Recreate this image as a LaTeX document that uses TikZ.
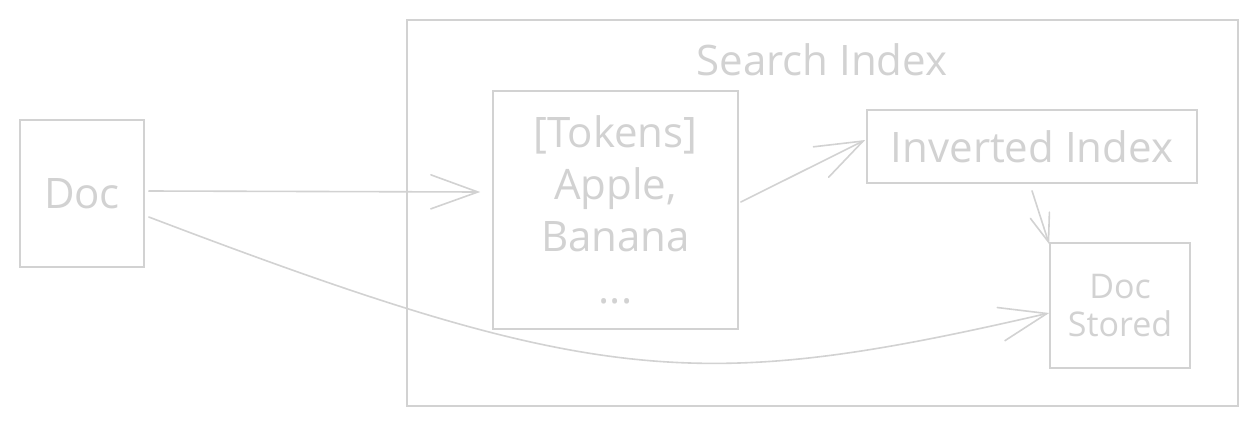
\documentclass[tikz,border=0pt]{standalone}
\usepackage{fontspec}
\setmainfont{Open Sans}
\usetikzlibrary{arrows.meta,calc}
\definecolor{ink}{RGB}{210,210,210}
\tikzset{
  box/.style={draw=ink, line width=1.6pt, rectangle, inner sep=0pt},
  lbl/.style={text=ink, font=\fontsize{42}{46}\selectfont},
  link/.style={draw=ink, line width=1.6pt, line cap=round,
    -{Straight Barb[length=47pt,width=34pt,line cap=round]}},
  shortlink/.style={draw=ink, line width=1.6pt, line cap=round,
    -{Straight Barb[length=28pt,width=20pt,line cap=round]}}
}
\begin{document}
\begin{tikzpicture}[x=1pt,y=-1pt]
  \fill[white] (0,0) rectangle (1257,426);
  \useasboundingbox (0,0) rectangle (1257,426);

  % outer container with its title
  \node[box, minimum width=831pt, minimum height=386pt] (search) at (822.5,213) {};
  \node[lbl] (searchlbl) at (822,60) {Search Index};

  % boxes
  \node[box, minimum width=124pt, minimum height=147pt, lbl] (doc) at (82,193.5) {Doc};
  \node[box, minimum width=245pt, minimum height=238pt, text=ink, align=center,
        font=\fontsize{42}{52}\selectfont] (tokens) at (615.5,210)
        {[Tokens]\\Apple,\\Banana\\...};
  \node[box, minimum width=330pt, minimum height=73pt, lbl] (inv) at (1032,146.5) {Inverted Index};
  \node[box, minimum width=140pt, minimum height=125pt, text=ink, align=center,
        font=\fontsize{34}{38}\selectfont] (stored) at (1120,305.5) {Doc\\Stored};

  % connectors
  \draw[link] ($(doc.east)+(4,-2.5)$) -- ($(tokens.west)+(-12,-18)$);
  \draw[link] ($(tokens.east)+(2,-8)$) -- ($(inv.west)+(-1,-6.5)$);
  \draw[shortlink] ($(inv.south)+(0,7)$) -- ($(stored.north west)+(0,2)$);
  \draw[link] ($(doc.east)+(4,23.5)$) .. controls (598,388) and (700,393.5) .. ($(stored.west)+(0,7.5)$);
\end{tikzpicture}
\end{document}
